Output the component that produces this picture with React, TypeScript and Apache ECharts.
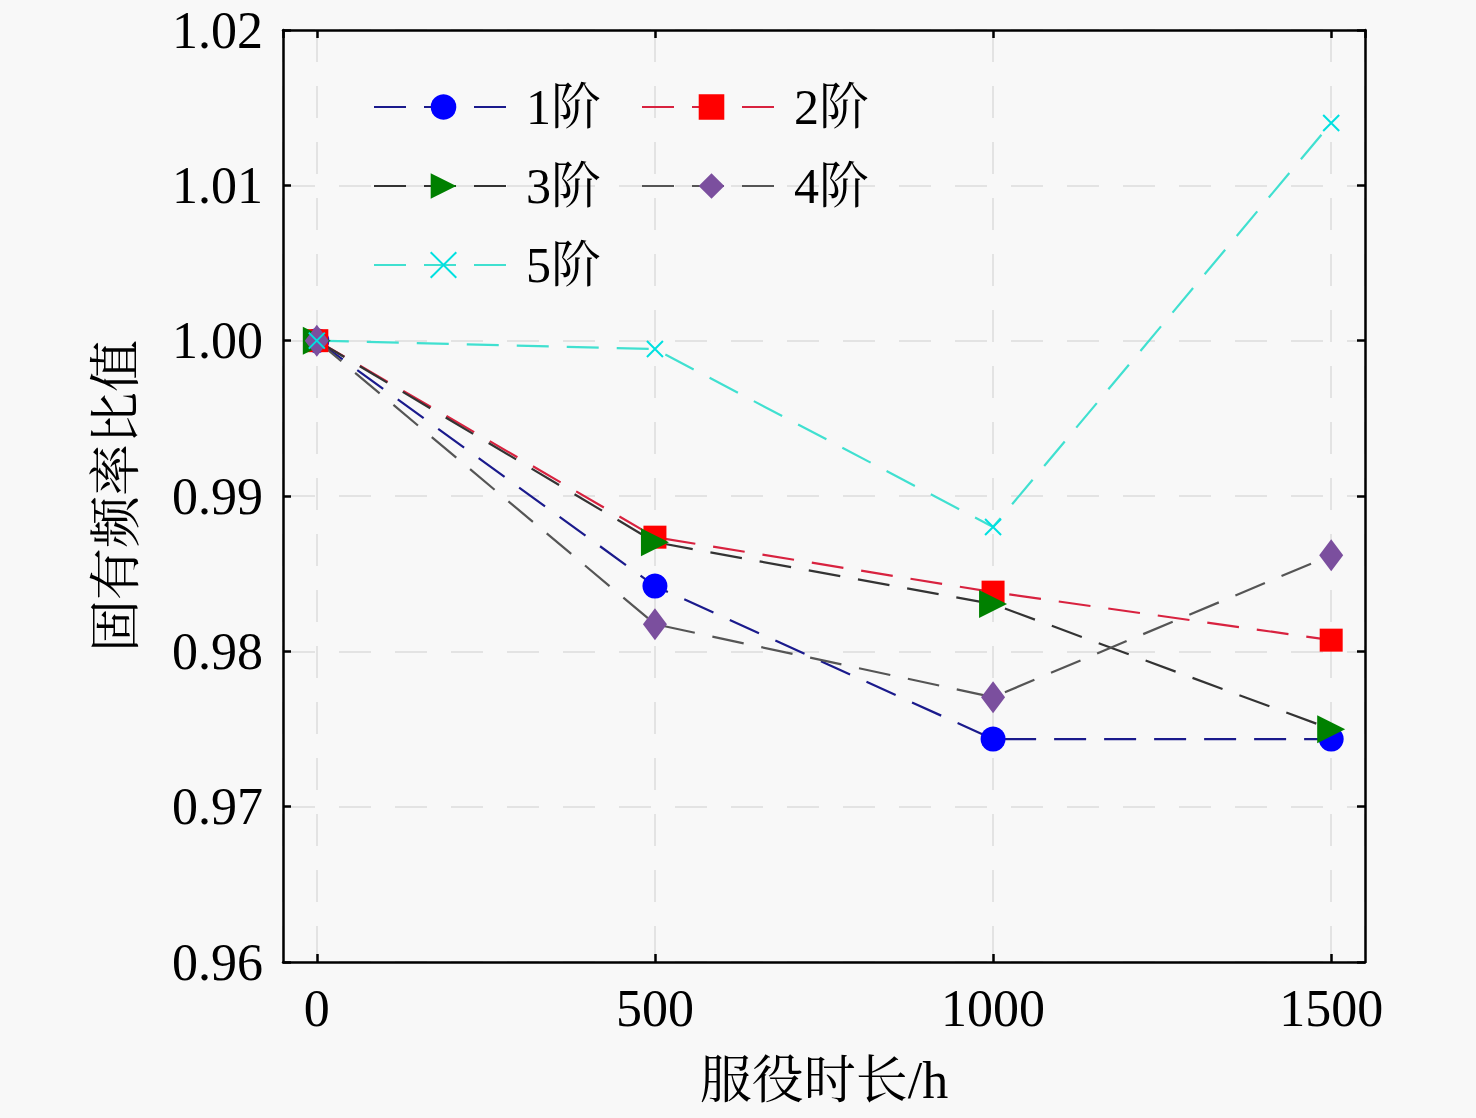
import React, { useEffect, useRef } from "react";
import * as echarts from "echarts";

const hours = [0, 500, 1000, 1500];
const order1 = [1.0, 0.9842, 0.97435, 0.97435];
const order2 = [1.0, 0.98735, 0.98381, 0.98072];
const order3 = [1.0, 0.98703, 0.98304, 0.97499];
const order4 = [1.0, 0.98175, 0.97705, 0.98619];
const order5 = [1.0, 0.99946, 0.988, 1.01401];
const seriesNames = ["1阶", "2阶", "3阶", "4阶", "5阶"];
const yTicks = [0.96, 0.97, 0.98, 0.99, 1.0, 1.01, 1.02];

const FONT = "'Liberation Serif', 'Times New Roman', 'Noto Serif CJK SC', 'Noto Sans CJK SC', serif";
const DASH = [32, 18];

function pairs(vals: number[]) {
  return hours.map((h, i) => [h, vals[i]]);
}

export default function App() {
  const ref = useRef<HTMLDivElement>(null);
  useEffect(() => {
    if (!ref.current) return;
    const chart = echarts.init(ref.current, null, { renderer: "svg" });
    const axisLineStyle = { color: "#000", width: 2.5 };
    const tickStyle = { show: true, inside: true, length: 8, lineStyle: { color: "#000", width: 2.5 } };
    const gridLine = { show: true, lineStyle: { color: "#e3e3e3", width: 2, type: [32, 24] } };
    const legendCommon = {
      orient: "vertical",
      top: 82,
      padding: 0,
      itemWidth: 139,
      itemHeight: 32,
      itemGap: 29,
      textStyle: { fontFamily: FONT, fontSize: 50, color: "#000", lineHeight: 46, padding: [0, 0, 0, 8] },
    };
    const mk = (name: string, vals: number[], lineColor: string, itemColor: string, symbol: string, size: any, extra: any = {}) => ({
      name,
      type: "line",
      data: pairs(vals),
      symbol,
      symbolSize: size,
      showSymbol: true,
      lineStyle: { color: lineColor, width: 2.2, type: DASH },
      itemStyle: { color: itemColor, opacity: 1 },
      ...extra,
    });
    chart.setOption({
      animation: false,
      backgroundColor: "#f8f8f8",
      grid: { left: 283, right: 111, top: 30, bottom: 156, containLabel: false },
      legend: [
        { ...legendCommon, left: 373, data: [seriesNames[0], seriesNames[2], seriesNames[4]] },
        { ...legendCommon, left: 641, data: [seriesNames[1], seriesNames[3]] },
      ],
      xAxis: [
        {
          type: "value",
          min: -50,
          max: 1550,
          splitNumber: 3,
          name: "服役时长/h",
          nameLocation: "middle",
          nameGap: 92,
          nameTextStyle: { fontFamily: FONT, fontSize: 52, color: "#000" },
          axisLine: { show: true, onZero: false, lineStyle: axisLineStyle },
          axisTick: tickStyle,
          axisLabel: {
            show: true,
            showMinLabel: false,
            showMaxLabel: false,
            margin: 20,
            fontFamily: FONT,
            fontSize: 52,
            color: "#000",
            formatter: (v: number) => String(v),
          },
          splitLine: gridLine,
        },
        {
          type: "value",
          position: "top",
          min: -50,
          max: 1550,
          splitNumber: 3,
          axisLine: { show: true, onZero: false, lineStyle: axisLineStyle },
          axisTick: tickStyle,
          axisLabel: { show: false },
          splitLine: { show: false },
        },
      ],
      yAxis: [
        {
          type: "value",
          min: yTicks[0],
          max: yTicks[yTicks.length - 1],
          interval: 0.01,
          name: "固有频率比值",
          nameLocation: "middle",
          nameGap: 141,
          nameTextStyle: { fontFamily: FONT, fontSize: 52, color: "#000" },
          axisLine: { show: true, onZero: false, lineStyle: axisLineStyle },
          axisTick: tickStyle,
          axisLabel: { margin: 20, fontFamily: FONT, fontSize: 52, color: "#000", formatter: (v: number) => v.toFixed(2) },
          splitLine: gridLine,
        },
        {
          type: "value",
          position: "right",
          min: yTicks[0],
          max: yTicks[yTicks.length - 1],
          interval: 0.01,
          axisLine: { show: true, onZero: false, lineStyle: axisLineStyle },
          axisTick: tickStyle,
          axisLabel: { show: false },
          splitLine: { show: false },
        },
      ],
      series: [
        mk(seriesNames[0], order1, "#1a1a8c", "#0000ff", "circle", 25),
        mk(seriesNames[1], order2, "#d8223f", "#ff0000", "rect", 23),
        mk(seriesNames[2], order3, "#333333", "#008000", "triangle", 28, { symbolRotate: -90 }),
        mk(seriesNames[3], order4, "#555555", "#7b4f9e", "diamond", [24, 32]),
        mk(seriesNames[4], order5, "#40e0d0", "#00e8e8", "path://M0,0L10,10M10,0L0,10", 16, {
          itemStyle: { color: "#00e8e8", borderColor: "#00e0e0", borderWidth: 2 },
        }),
      ],
    });
    return () => chart.dispose();
  }, []);
  return <div ref={ref} style={{ position: "fixed", left: 0, top: 0, width: 1476, height: 1118 }} />;
}
